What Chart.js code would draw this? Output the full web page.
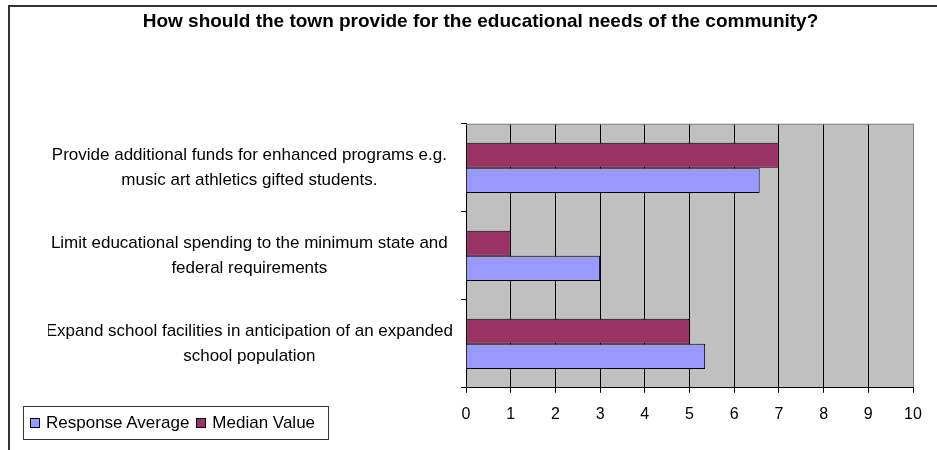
<!DOCTYPE html>
<html>
<head>
<meta charset="utf-8">
<script src="https://cdn.jsdelivr.net/npm/chart.js@4/dist/chart.umd.min.js"></script>
<style>
  html, body { margin: 0; padding: 0; background: #fff; }
  #wrap { position: relative; width: 937px; height: 450px; overflow: hidden; }
  #frameTop { position: absolute; left: 8px; top: 5px; width: 929px; height: 2px; background: #333; }
  #frameLeft { position: absolute; left: 8px; top: 5px; width: 2px; height: 445px; background: #333; }
  #legend { position: absolute; left: 23px; top: 406px; width: 306px; height: 34px; border: 1px solid #333;
            box-sizing: border-box; font-family: 'Liberation Sans', Arial, sans-serif; font-size: 17px;
            display: flex; align-items: center; padding-left: 6px; white-space: nowrap; }
  #legend .item { display: flex; align-items: center; margin-right: 7px; }
  #legend .sw { width: 8px; height: 8px; border: 1px solid #000; margin-right: 6px; }
</style>
</head>
<body>
<div id="wrap">
  <canvas id="c" width="937" height="450"></canvas>
  <div id="frameTop"></div>
  <div id="frameLeft"></div>
  <div id="legend"></div>
</div>
<script>
const titleText = "How should the town provide for the educational needs of the community?";
const categories = [
  ["Provide additional funds for enhanced programs e.g.", "music art athletics gifted students."],
  ["Limit educational spending to the minimum state and", "federal requirements"],
  ["Expand school facilities in anticipation of an expanded", "school population"]
];
const seriesNames = ["Response Average", "Median Value"];
const responseAverage = [6.57, 3, 5.35];
const medianValue = [7, 1, 5];
const xTicks = [0, 1, 2, 3, 4, 5, 6, 7, 8, 9, 10];

const colResponse = "#9999FF";
const colMedian = "#993366";

Chart.defaults.font.family = "'Liberation Sans', Arial, sans-serif";
Chart.defaults.color = "#000";

const plotBg = {
  id: 'plotBg',
  beforeDraw(chart) {
    const {ctx, chartArea: a} = chart;
    ctx.save();
    ctx.fillStyle = '#C0C0C0';
    ctx.fillRect(a.left, a.top, a.right - a.left, a.bottom - a.top);
    ctx.restore();
  },
  beforeDatasetsDraw(chart) {
    const {ctx, chartArea: a} = chart;
    ctx.save();
    ctx.strokeStyle = '#808080';
    ctx.lineWidth = 1;
    ctx.beginPath();
    ctx.moveTo(a.left, a.top + 0.5);
    ctx.lineTo(a.right, a.top + 0.5);
    ctx.stroke();
    ctx.restore();
  }
};

const chart = new Chart(document.getElementById('c'), {
  type: 'bar',
  data: {
    labels: categories,
    datasets: [
      { label: seriesNames[1], data: medianValue, backgroundColor: colMedian, borderColor: '#000', borderWidth: 1 },
      { label: seriesNames[0], data: responseAverage, backgroundColor: colResponse, borderColor: '#000', borderWidth: 1 }
    ]
  },
  plugins: [plotBg],
  options: {
    indexAxis: 'y',
    responsive: false,
    animation: false,
    devicePixelRatio: 1,
    categoryPercentage: 0.57,
    barPercentage: 1,
    layout: { padding: { left: 48, right: 24, top: 0, bottom: 14 } },
    plugins: {
      legend: { display: false },
      tooltip: { enabled: false },
      title: {
        display: true,
        text: titleText,
        color: '#000',
        font: { size: 19, weight: 'bold' },
        padding: { top: 10, bottom: 91 }
      }
    },
    scales: {
      x: {
        type: 'linear',
        min: 0,
        max: 10,
        afterBuildTicks(scale) { scale.ticks = xTicks.map(v => ({ value: v })); },
        ticks: { font: { size: 16 }, padding: 12, maxRotation: 0 },
        grid: {
          color: ctx => (ctx.tick && ctx.tick.value === 10) ? '#808080' : '#000',
          tickColor: '#000',
          tickLength: 5,
          lineWidth: 1
        },
        border: { color: '#000', width: 1 }
      },
      y: {
        type: 'category',
        afterFit(scale) { scale.width = 418; },
        ticks: { font: { size: 17, lineHeight: 1.5 }, crossAlign: 'center', padding: 8, autoSkip: false },
        grid: { offset: true, drawOnChartArea: false, drawTicks: true, tickLength: 5, color: '#000' },
        border: { color: '#000', width: 1 }
      }
    }
  }
});

const legendEl = document.getElementById('legend');
chart.data.datasets.slice().reverse().forEach(ds => {
  const item = document.createElement('div');
  item.className = 'item';
  const sw = document.createElement('div');
  sw.className = 'sw';
  sw.style.background = ds.backgroundColor;
  const t = document.createElement('span');
  t.textContent = ds.label;
  item.appendChild(sw);
  item.appendChild(t);
  legendEl.appendChild(item);
});
</script>
</body>
</html>
